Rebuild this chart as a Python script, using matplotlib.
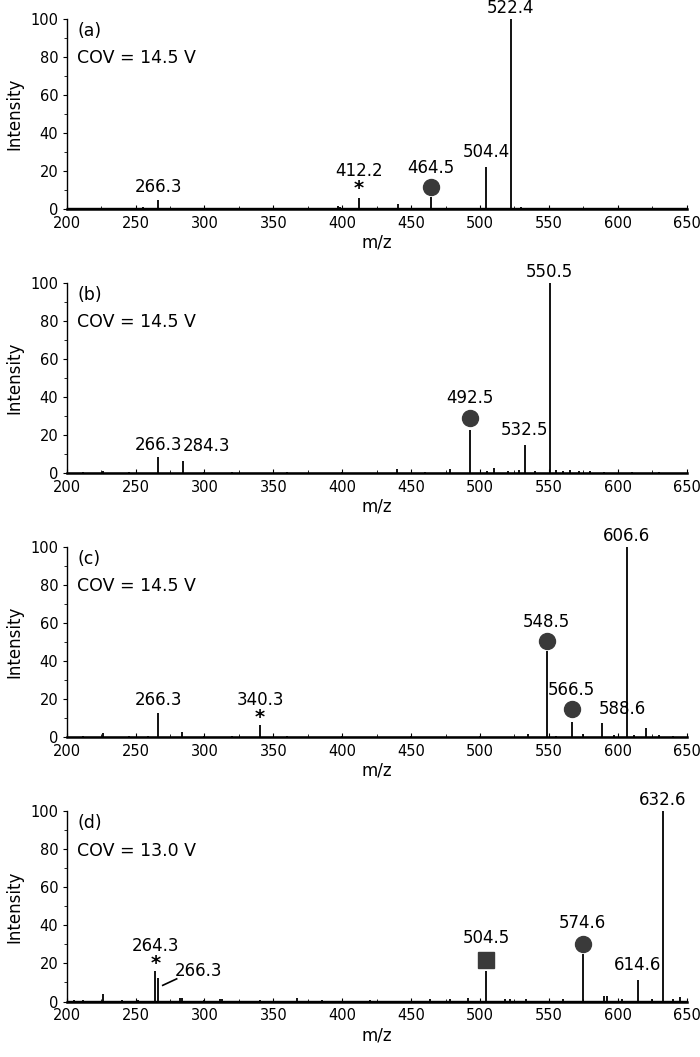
import matplotlib
matplotlib.use("Agg")
import matplotlib.pyplot as plt
from matplotlib.ticker import MultipleLocator

plt.rcParams['font.family'] = ['DejaVu Sans']

# ---------------- data ----------------
# panel (a)
mz_a = [212, 226, 240, 255.4, 266.3, 283, 300, 330, 396.9, 398.5, 412.2, 425, 440.2, 452, 464.5, 480, 490, 504.4, 510, 522.4, 530, 545, 560, 580, 600, 620, 640]
int_a = [0.5, 0.6, 0.4, 1.2, 4.9, 0.6, 0.4, 0.4, 1.5, 1.2, 5.8, 0.6, 2.8, 0.5, 6.3, 0.5, 0.5, 22.3, 0.6, 100, 0.8, 0.5, 0.5, 0.5, 0.4, 0.4, 0.4]
# panel (b)
mz_b = [212, 226, 245, 266.3, 284.3, 300, 320, 360, 400, 440, 460, 478, 492.5, 505, 510, 520, 528, 532.5, 540, 550.5, 555, 560, 565, 572, 580, 590, 610, 630]
int_b = [0.5, 0.8, 0.5, 8.4, 6.3, 0.6, 0.4, 0.4, 0.5, 2.0, 0.6, 2.0, 22.8, 0.8, 2.5, 1.0, 1.5, 14.6, 0.8, 100, 1.8, 1.0, 1.6, 0.8, 1.0, 0.6, 0.5, 0.5]
# panel (c)
mz_c = [212, 226, 245, 259, 266.3, 284, 300, 320, 340.3, 360, 400, 450, 500, 535, 548.5, 555, 566.5, 575, 588.6, 597, 606.6, 612, 620.6, 630, 640]
int_c = [0.5, 2.0, 0.5, 0.6, 12.6, 2.5, 0.5, 0.4, 6.1, 0.4, 0.4, 0.4, 0.4, 1.5, 45, 0.8, 7.9, 1.5, 7.5, 1.0, 100, 1.0, 4.5, 1.0, 0.6]
# panel (d)
mz_d = [205, 212, 226, 240, 252, 264.3, 266.3, 282, 284, 300, 311, 313, 340, 367, 385, 420, 464, 478, 491, 504.5, 518, 522, 533, 560, 574.6, 590, 592, 603, 614.6, 625, 632.6, 640, 645]
int_d = [0.8, 1.0, 3.7, 0.8, 1.0, 15.9, 12.4, 2.0, 2.0, 1.0, 1.5, 1.5, 0.8, 2.0, 0.8, 0.8, 1.5, 1.2, 2.0, 15.9, 1.5, 1.5, 1.5, 1.2, 25, 3.0, 3.0, 1.2, 11.2, 1.5, 100, 1.5, 2.5]

titles = ["(a)", "(b)", "(c)", "(d)"]
covs = ["COV = 14.5 V", "COV = 14.5 V", "COV = 14.5 V", "COV = 13.0 V"]

# annotations: (label, x, y, ha)
labels_a = [("266.3", 266.3, 7.0, "center"), ("412.2", 412.2, 15.0, "center"),
            ("464.5", 464.5, 17.0, "center"), ("504.4", 504.4, 25.0, "center"),
            ("522.4", 522.4, 101.0, "center")]
labels_b = [("266.3", 266.3, 9.8, "center"), ("284.3", 284.0, 9.3, "left"),
            ("492.5", 492.5, 34.8, "center"), ("532.5", 532.5, 17.7, "center"),
            ("550.5", 550.5, 101.0, "center")]
labels_c = [("266.3", 266.3, 14.9, "center"), ("340.3", 340.3, 14.9, "center"),
            ("548.5", 548.5, 56.0, "center"), ("566.5", 566.5, 20.0, "center"),
            ("588.6", 586.0, 10.0, "left"), ("606.6", 606.6, 101.0, "center")]
labels_d = [("264.3", 264.3, 24.6, "center"), ("266.3", 278.5, 11.5, "left"),
            ("504.5", 504.5, 28.4, "center"), ("574.6", 574.6, 36.3, "center"),
            ("614.6", 614.6, 14.7, "center"), ("632.6", 632.6, 101.0, "center")]

# symbols: (kind, x, y)
sym_a = [("star", 412.2, 10.5), ("circle", 464.5, 11.3)]
sym_b = [("circle", 492.5, 29.0)]
sym_c = [("star", 340.3, 10.5), ("circle", 548.5, 50.5), ("circle", 566.5, 15.0)]
sym_d = [("star", 264.3, 20.0), ("square", 504.5, 21.6), ("circle", 574.6, 30.4)]

panels = [(mz_a, int_a, labels_a, sym_a), (mz_b, int_b, labels_b, sym_b),
          (mz_c, int_c, labels_c, sym_c), (mz_d, int_d, labels_d, sym_d)]

# ---------------- figure ----------------
fig = plt.figure(figsize=(7.0, 10.57), dpi=100)
bottoms = [0.8023, 0.5525, 0.3027, 0.0525]
left, width, height = 0.0953, 0.8857, 0.1800
mark_col = "#3a3a3a"

for i, (mz, inten, labs, syms) in enumerate(panels):
    ax = fig.add_axes([left, bottoms[i], width, height])
    ax.vlines(mz, 0, inten, color="black", lw=1.3)
    ax.axhline(0.25, color="black", lw=1.0)
    ax.set_xlim(200, 650)
    ax.set_ylim(0, 100)
    for s in ["top", "right"]:
        ax.spines[s].set_visible(False)
    ax.spines["bottom"].set_linewidth(1.8)
    ax.spines["left"].set_linewidth(1.0)
    ax.xaxis.set_major_locator(MultipleLocator(50))
    ax.xaxis.set_minor_locator(MultipleLocator(25))
    ax.yaxis.set_major_locator(MultipleLocator(20))
    ax.yaxis.set_minor_locator(MultipleLocator(10))
    ax.tick_params(axis="x", which="major", direction="in", length=3, labelsize=10.5, pad=5)
    ax.tick_params(axis="x", which="minor", direction="in", length=2)
    ax.tick_params(axis="y", which="major", direction="out", length=3, labelsize=10.5, pad=3)
    ax.tick_params(axis="y", which="minor", direction="out", length=2)
    ax.set_xlabel("m/z", fontsize=12, labelpad=2)
    ax.set_ylabel("Intensity", fontsize=12, labelpad=5)
    ax.text(0.017, 0.985, titles[i], transform=ax.transAxes, fontsize=12.5, va="top", ha="left")
    ax.text(0.017, 0.84, covs[i], transform=ax.transAxes, fontsize=12.5, va="top", ha="left")
    for (t, x, y, ha) in labs:
        ax.text(x, y, t, fontsize=12, ha=ha, va="bottom", clip_on=False)
    for (kind, x, y) in syms:
        if kind == "star":
            ax.text(x, y, "*", fontsize=14, ha="center", va="center", fontweight="bold")
        elif kind == "circle":
            ax.plot([x], [y], "o", ms=11.5, color=mark_col, clip_on=False)
        else:
            ax.plot([x], [y], "s", ms=11, color=mark_col, clip_on=False)
    if i == 3:
        ax.plot([269.7, 279.8], [8.5, 11.9], color="black", lw=1.2)

fig.savefig("out.png", dpi=100)
